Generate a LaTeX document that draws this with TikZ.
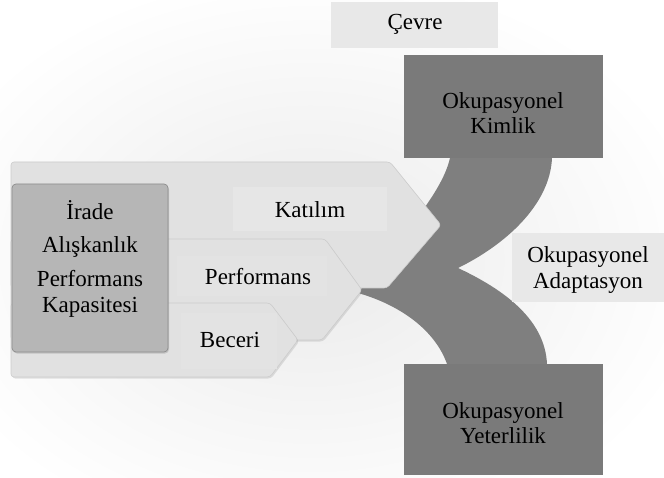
\documentclass[tikz,border=0pt]{standalone}
\usepackage{fontspec}
\setmainfont{Liberation Serif}
\usetikzlibrary{shadows}
\definecolor{bandgray}{RGB}{127,127,127}
\definecolor{boxgray}{RGB}{122,122,122}
\definecolor{chev}{RGB}{225,225,225}
\definecolor{chevtxt}{RGB}{230,230,230}
\definecolor{chevtxtb}{RGB}{227,227,227}
\definecolor{innerbox}{RGB}{182,182,182}
\definecolor{lightbox}{RGB}{232,232,232}
\tikzset{
  txt/.style={font=\fontsize{23}{25.5}\selectfont, align=center, text=black, inner sep=0pt},
  darkbox/.style={fill=boxgray, draw=none, inner sep=0pt},
  lightrect/.style={fill=lightbox, draw=none, inner sep=0pt},
  chevron/.style={fill=chev, draw=black!20, line width=0.6pt, rounded corners=3pt,
    drop shadow={opacity=0.22, shadow xshift=1.2pt, shadow yshift=-1.5pt}},
  chevlabel/.style={fill=chevtxt, draw=none, inner sep=0pt},
  chevlabelb/.style={fill=chevtxtb, draw=none, inner sep=0pt},
  innerstyle/.style={fill=innerbox, draw=black!45, line width=0.7pt, rounded corners=4pt, inner sep=0pt,
    drop shadow={opacity=0.3, shadow xshift=1pt, shadow yshift=-1.5pt}}
}
\begin{document}
\begin{tikzpicture}[x=1pt,y=-1pt]
\useasboundingbox (0,0) rectangle (664,478);
\begin{scope}
  \clip (0,0) rectangle (664,478);
  \fill[white] (0,0) rectangle (664,478);
  \shade[inner color=black!8, outer color=white] (310,260) ellipse [x radius=400, y radius=290];
\end{scope}

% top label
\node[lightrect, minimum width=167pt, minimum height=46pt] (cevrebox) at (414.5,25) {};
\node[txt] (cevre) at (415,24) {Çevre};

% band
\fill[bandgray] (450,158) -- (552,158)
  .. controls (550,205) and (505,245) .. (458,268)
  .. controls (505,290) and (545,320) .. (547,364)
  -- (447,364)
  .. controls (435,330) and (400,305) .. (358,293)
  -- (400,240)
  .. controls (428,205) and (445,180) .. (450,158) -- cycle;

% dark boxes
\node[darkbox, minimum width=199pt, minimum height=103pt] (kimlikbox) at (503.5,106.5) {};
\node[txt] (kimlik) at (503,113) {Okupasyonel\\Kimlik};
\node[darkbox, minimum width=199pt, minimum height=111pt] (yeterbox) at (503.5,419.5) {};
\node[txt] (yeter) at (503,423) {Okupasyonel\\Yeterlilik};

% adaptation label
\node[lightrect, minimum width=152pt, minimum height=69pt] (adaptbox) at (588,267.5) {};
\node[txt] (adapt) at (588,270) {Okupasyonel\\Adaptasyon};

% chevrons
\draw[chevron] (11,162) -- (390,162) -- (441,225) -- (387,288) -- (11,288) -- cycle;
\node[chevlabel, minimum width=154pt, minimum height=44pt] (katbox) at (310,209) {};
\node[txt] (katilim) at (310,210) {Katılım};

\draw[chevron] (11,239) -- (325,239) -- (362,290) -- (322,340) -- (11,340) -- cycle;
\node[chevlabelb, minimum width=150pt, minimum height=40pt] (perfbox) at (252,276) {};
\node[txt] (perf) at (258,277) {Performans};

\draw[chevron] (11,303) -- (270,303) -- (298,340) -- (270,377) -- (11,377) -- cycle;
\node[chevlabelb, minimum width=96pt, minimum height=56pt] (becbox) at (229,341) {};
\node[txt] (beceri) at (230,340) {Beceri};

% inner box
\node[innerstyle, minimum width=156pt, minimum height=168pt] (inner) at (90,268) {};
\node[txt] (irade) at (90,210) {İrade};
\node[txt] (alis) at (90,247) {Alışkanlık};
\node[txt] (perfk) at (90,294) {Performans\\Kapasitesi};
\end{tikzpicture}
\end{document}
